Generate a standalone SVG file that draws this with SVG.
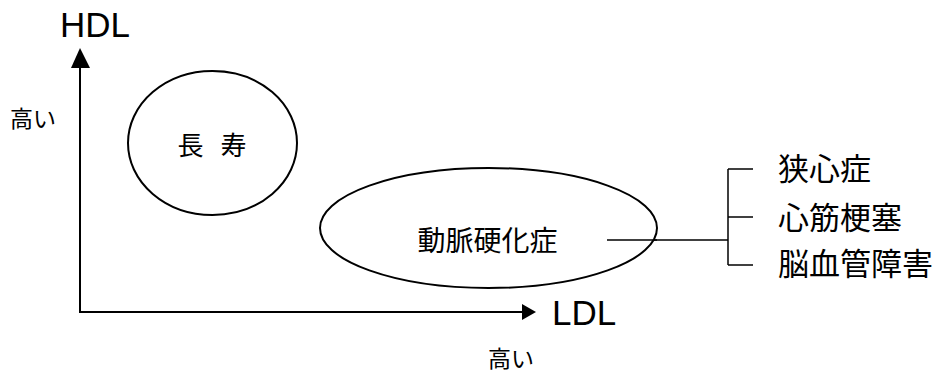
<svg xmlns="http://www.w3.org/2000/svg" width="937" height="373" viewBox="0 0 937 373">
<style>
.ln{stroke:#000;stroke-width:2;fill:none}
.thin{stroke:#000;stroke-width:1.5;fill:none}
.head{fill:#000;stroke:none}
.ov{stroke:#000;stroke-width:2;fill:#fff}
.lat{font-family:"Liberation Sans",Arial,sans-serif;font-size:35px;fill:#000}
.jp{font-family:"Noto Sans CJK JP","Noto Sans CJK SC",sans-serif;fill:#000}
</style>
<rect width="937" height="373" fill="#fff"/>
<g id="connectors">
<line class="ln" x1="80" y1="313" x2="80" y2="66"/>
<polygon class="head" points="80,48 71,68 90,68"/>
<line class="ln" x1="79" y1="312" x2="525" y2="312"/>
<polygon class="head" points="536,312 522,304 522,320"/>
<line class="thin" x1="607" y1="240" x2="728" y2="240"/>
<line class="thin" x1="728" y1="169" x2="728" y2="265"/>
<line class="thin" x1="728" y1="169" x2="753" y2="169"/>
<line class="thin" x1="728" y1="217" x2="753" y2="217"/>
<line class="thin" x1="728" y1="265" x2="753" y2="265"/>
</g>
<g id="axis-hdl">
<text class="lat" x="60" y="37">HDL</text>
<text class="jp" x="10" y="127" font-size="23">高い</text>
</g>
<g id="axis-ldl">
<text class="lat" x="552" y="325">LDL</text>
<text class="jp" x="488" y="367" font-size="23">高い</text>
</g>
<g id="node-choju">
<ellipse class="ov" cx="212.5" cy="143" rx="84.5" ry="72"/>
<text class="jp" x="212" y="155" font-size="26" text-anchor="middle" word-spacing="11">長 寿</text>
</g>
<g id="node-domyaku">
<ellipse class="ov" cx="488.5" cy="228" rx="168.5" ry="60"/>
<text class="jp" x="487.5" y="251" font-size="28" text-anchor="middle">動脈硬化症</text>
<line class="thin" x1="607" y1="240" x2="657" y2="240"/>
</g>
<g id="node-kyoshinsho">
<text class="jp" x="778" y="180" font-size="31">狭心症</text>
</g>
<g id="node-shinkinkosoku">
<text class="jp" x="778" y="229" font-size="31">心筋梗塞</text>
</g>
<g id="node-noketsukan">
<text class="jp" x="778" y="275" font-size="31">脳血管障害</text>
</g>
</svg>
